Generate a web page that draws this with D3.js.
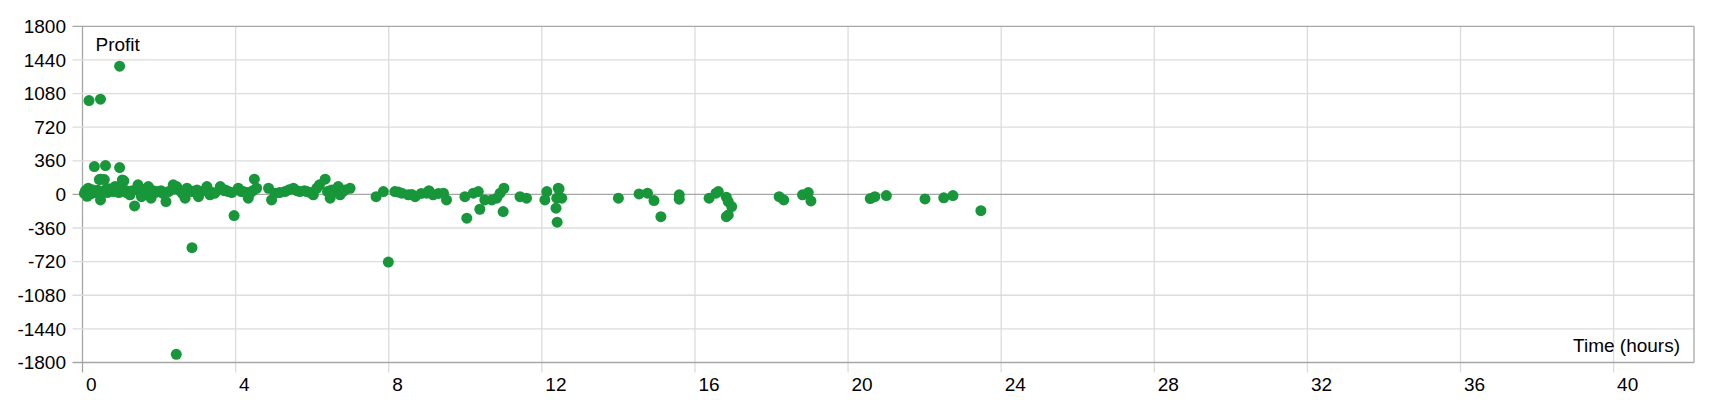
<!DOCTYPE html>
<html>
<head>
<meta charset="utf-8">
<script src="https://cdn.jsdelivr.net/npm/d3@7"></script>
<style>
  html, body { margin: 0; padding: 0; background: #fff; }
  svg { display: block; font-family: Arial, "Liberation Sans", sans-serif; }
</style>
</head>
<body>
<svg id="chart" width="1720" height="400"></svg>
<script>
// ---- Data ----
const xTicks = [0, 4, 8, 12, 16, 20, 24, 28, 32, 36, 40];
const yTicks = [-1800, -1440, -1080, -720, -360, 0, 360, 720, 1080, 1440, 1800];
const yLabel = "Profit";
const xLabel = "Time (hours)";

const hours = [
  0.05, 0.08, 0.10, 0.12, 0.15, 0.18, 0.22, 0.25, 0.28, 0.31,
  0.17, 0.47, 0.97, 0.60, 0.97, 0.44, 0.57, 0.47, 1.08, 1.04,
  0.35, 0.40, 0.47, 0.52, 0.60, 0.65, 0.70, 0.76, 0.80, 0.85,
  0.90, 0.95, 1.00, 1.10, 1.15, 1.20, 1.24, 1.30, 1.36, 1.45,
  1.50, 1.54, 1.60, 1.65, 1.72, 1.79, 1.85, 1.90, 1.98, 2.05,
  2.10, 2.18, 2.25, 2.37, 2.41, 2.45, 2.46, 2.55, 2.60, 2.68,
  2.73, 2.86, 2.86, 2.99, 3.03, 3.10, 3.25, 3.33, 3.40, 3.46,
  3.60, 3.70, 3.73, 3.81, 3.90, 3.96, 4.07, 4.15, 4.20, 4.30,
  4.33, 4.38, 4.45, 4.49, 4.55, 4.86, 4.94, 5.03, 5.15, 5.29,
  5.40, 5.51, 5.60, 5.68, 5.80, 5.86, 5.95, 6.03, 6.12, 6.19,
  6.34, 6.40, 6.47, 6.51, 6.60, 6.68, 6.73, 6.80, 6.86, 6.99,
  7.67, 7.86, 7.99, 8.16, 8.25, 8.34, 8.51, 8.60, 8.69, 8.85,
  8.99, 9.05, 9.16, 9.30, 9.43, 9.51, 9.99, 10.04, 10.21, 10.34,
  10.38, 10.51, 10.69, 10.82, 10.91, 11.01, 10.99, 11.43, 11.60, 12.08,
  12.13, 12.37, 12.40, 12.43, 12.45, 12.39, 12.52, 14.00, 14.54, 14.76,
  14.93, 15.11, 15.59, 15.59, 16.37, 16.55, 16.61, 16.82, 16.87, 16.96,
  16.87, 16.82, 18.20, 18.32, 18.81, 18.96, 19.03, 20.58, 20.70, 21.00,
  22.01, 22.50, 22.74, 23.47
];
const profit = [
  10, 40, 13, -20, 66, 30, 5, 50, 30, 298,
  1005, 1020, 1373, 309, 287, 159, 159, 163, 145, 155,
  20, 45, -59, 30, 50, 20, 60, 48, 30, 84,
  40, 20, 60, 48, 20, 30, -5, 40, -123, 102,
  30, -24, 50, 20, 84, -41, 40, 20, 30, 40,
  10, -77, 30, 102, 60, -1712, 84, 40, 13, -41,
  66, 30, -570, 48, -24, 30, 84, -5, 20, 13,
  84, 40, 48, 30, 20, -227, 66, 30, 30, 20,
  -41, 13, 40, 163, 66, 66, -59, 13, 20, 30,
  50, 66, 40, 30, 40, 30, 20, -5, 66, 102,
  163, 30, -41, 48, 30, 84, -5, 30, 48, 66,
  -24, 30, -725, 30, 25, 13, -5, 0, -24, 10,
  13, 40, -5, 10, 13, -59, -24, -255, 13, 30,
  -159, -59, -59, -41, 13, 66, -184, -24, -41, -59,
  30, -148, -298, 66, 59, -41, -41, -41, 5, 13,
  -66, -238, -5, -51, -41, 13, 30, -30, -77, -130,
  -220, -238, -24, -59, -5, 20, -70, -45, -24, -13,
  -48, -37, -13, -174
];

// ---- Layout ----
const svg = d3.select("#chart");
const pLeft = 82.5, pRight = 1694, pTop = 26.3, pBottom = 362.5;

const x = d3.scaleLinear().domain([0, 42.1]).range([pLeft, pRight]);
const y = d3.scaleLinear().domain([-1800, 1800]).range([pBottom, pTop]);

const gridColor = "#dcdcdc";
const axisColor = "#a6a6a6";
const dotColor = "#17963a";
const fontSize = "19px";

// vertical grid + ticks (extend below bottom)
svg.append("g").selectAll("line").data(xTicks).join("line")
  .attr("x1", d => x(d)).attr("x2", d => x(d))
  .attr("y1", pTop).attr("y2", pBottom + 10)
  .attr("stroke", d => d === 0 ? axisColor : gridColor)
  .attr("stroke-width", 1.3);

// horizontal grid + ticks (extend left)
svg.append("g").selectAll("line").data(yTicks).join("line")
  .attr("x1", pLeft - 10).attr("x2", pRight)
  .attr("y1", d => y(d)).attr("y2", d => y(d))
  .attr("stroke", d => (d === 0 || d === 1800 || d === -1800) ? axisColor : gridColor)
  .attr("stroke-width", 1.3);

// right border
svg.append("line")
  .attr("x1", pRight).attr("x2", pRight).attr("y1", pTop).attr("y2", pBottom)
  .attr("stroke", axisColor).attr("stroke-width", 1.3);

// x tick labels
svg.append("g").selectAll("text").data(xTicks).join("text")
  .attr("x", d => x(d) + 3.5).attr("y", 390.5)
  .attr("font-size", fontSize).attr("fill", "#000")
  .text(d => d);

// y tick labels
svg.append("g").selectAll("text").data(yTicks).join("text")
  .attr("x", 66).attr("y", d => y(d)).attr("dy", "0.35em")
  .attr("text-anchor", "end")
  .attr("font-size", fontSize).attr("fill", "#000")
  .text(d => d);

// axis titles
svg.append("text").attr("x", 95.5).attr("y", 50.5)
  .attr("font-size", fontSize).attr("fill", "#000").text(yLabel);
svg.append("text").attr("x", 1680).attr("y", 351.5)
  .attr("text-anchor", "end")
  .attr("font-size", fontSize).attr("fill", "#000").text(xLabel);

// points
const pts = hours.map((h, i) => ({ h, v: profit[i] }));
svg.append("g").selectAll("circle").data(pts).join("circle")
  .attr("cx", d => x(d.h)).attr("cy", d => y(d.v))
  .attr("r", 5.5).attr("fill", dotColor);
</script>
</body>
</html>
